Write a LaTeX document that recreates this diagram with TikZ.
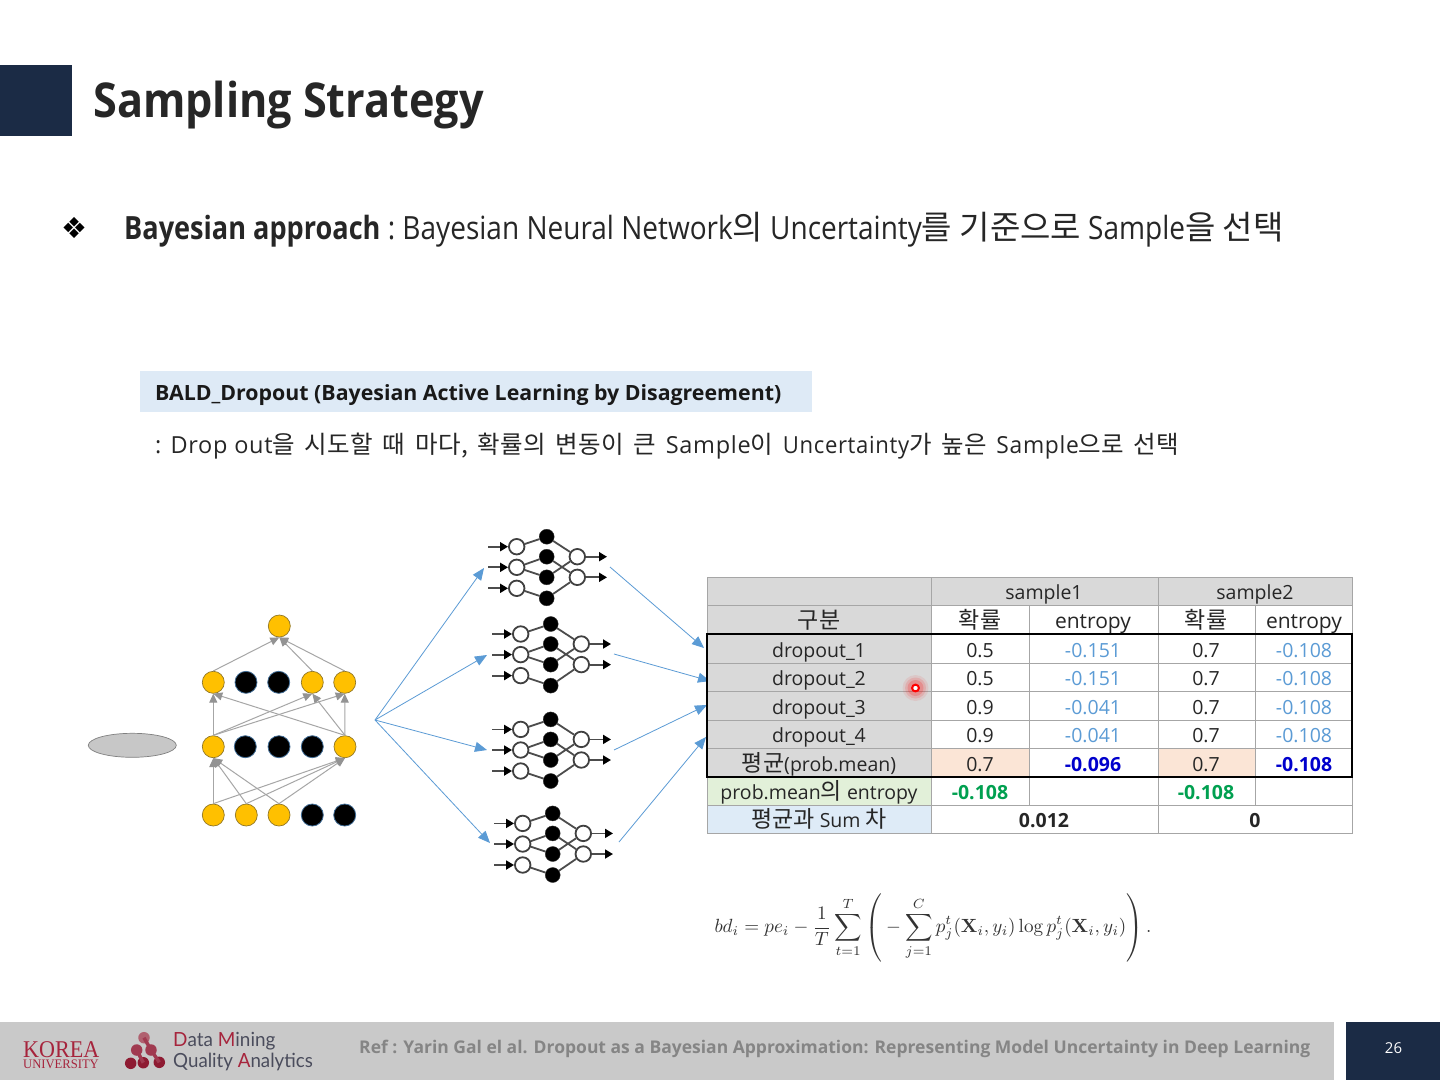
\documentclass[tikz,border=0pt]{standalone}
\usepackage[no-math]{fontspec}
\usepackage{graphicx}
\usepackage{amsmath}
\usetikzlibrary{arrows.meta,shapes.geometric}
\setmainfont{Open Sans}
\newfontfamily\krf{Noto Sans CJK KR}
\newfontfamily\lsf[LetterSpace=3]{Open Sans}
\newfontfamily\lskr[LetterSpace=2,WordSpace=1.6]{Noto Sans CJK KR}
\newfontfamily\dejavu{DejaVu Sans}
\newfontfamily\latof{Lato}
\newfontfamily\serf{Liberation Serif}
\newcommand{\kr}[1]{{\krf\fontsize{23}{23}\selectfont #1}}
\newcommand{\lk}[1]{{\lskr\fontsize{24.5}{24.5}\selectfont #1}}
\newcommand{\fs}[1]{\fontsize{#1}{#1}\selectfont}
\newcommand{\la}[1]{\scalebox{0.875}[1]{#1}}
\newcommand{\kb}[1]{{\krf\fontsize{33}{33}\selectfont #1}}
\definecolor{navy}{HTML}{1B2B45}
\definecolor{titletxt}{HTML}{262626}
\definecolor{boxblue}{HTML}{DEEAF6}
\definecolor{arrowblue}{HTML}{5B9BD5}
\definecolor{gold}{HTML}{FFC000}
\definecolor{edgegray}{HTML}{A6A6A6}
\definecolor{cellgray}{HTML}{D9D9D9}
\definecolor{peach}{HTML}{FBE5D6}
\definecolor{lgreen}{HTML}{E2F0D9}
\definecolor{lblue}{HTML}{DEEBF7}
\definecolor{dgreen}{HTML}{00A050}
\definecolor{dblue}{HTML}{0000CC}
\definecolor{footgray}{HTML}{C9C9C9}
\definecolor{kured}{HTML}{A6243C}
\definecolor{logotxt}{HTML}{4A4C5C}
\definecolor{logotop}{HTML}{B0606F}
\definecolor{logomid}{HTML}{A03A50}
\definecolor{logolow}{HTML}{8E1B32}
\tikzset{
 txt/.style={inner sep=0pt,anchor=base west},
 ctr/.style={inner sep=0pt,anchor=base},
 cellt/.style={ctr,font=\fs{19.5},text=black!85},
 goldn/.style={circle,draw=gold!60!black!70!gray,line width=0.7pt,fill=gold,minimum size=22pt,inner sep=0pt},
 blackn/.style={circle,draw=arrowblue!70!black,line width=0.8pt,fill=black,minimum size=22pt,inner sep=0pt},
 nnedge/.style={draw=edgegray,line width=1pt,-{Triangle[length=9pt,width=8pt,fill=gray!85,color=gray!85]}},
 bluearr/.style={draw=arrowblue,line width=0.8pt,-{Triangle[length=12pt,width=10pt,fill=arrowblue,color=arrowblue]}},
 whiten/.style={circle,draw=black!75,line width=1.8pt,fill=white,minimum size=15.5pt,inner sep=0pt},
 darkn/.style={circle,fill=black,draw=black!80,minimum size=15pt,inner sep=0pt},
 iconedge/.style={draw=black!70,line width=1.8pt},
 iconarr/.style={draw=black!70,line width=1.8pt,-{Triangle[length=8pt,width=9pt,fill=black,color=black]}},
 gridl/.style={draw=black!35,line width=0.8pt},
 dot/.style={circle,inner sep=0pt,minimum size=11.5pt},
}
% one small dropout network, offset by (#2,#3), node names prefixed #1
\newcommand{\dropnet}[3]{%
 \begin{scope}[shift={(#2,#3)}]
 \node[whiten] (#1i1) at (516.7,546.7) {};
 \node[whiten] (#1i2) at (516.7,567.3) {};
 \node[whiten] (#1i3) at (516.7,588.3) {};
 \node[darkn] (#1h1) at (546.7,536.7) {};
 \node[darkn] (#1h2) at (546.7,556.7) {};
 \node[darkn] (#1h3) at (546.7,577.3) {};
 \node[darkn] (#1h4) at (546.7,598.3) {};
 \node[whiten] (#1o1) at (577.3,556.7) {};
 \node[whiten] (#1o2) at (577.3,577.3) {};
 \coordinate (#1a1) at (488,546.7);
 \coordinate (#1a2) at (488,567.3);
 \coordinate (#1a3) at (488,588.3);
 \coordinate (#1b1) at (607,556.7);
 \coordinate (#1b2) at (607,577.3);
 \draw[iconedge] (#1i1)--(#1h1) (#1i2)--(#1h2) (#1i2)--(#1h3) (#1i3)--(#1h4)
   (#1h1)--(#1o1) (#1h2)--(#1o2) (#1h3)--(#1o1) (#1h4)--(#1o2);
 \draw[iconarr] (#1a1)--(#1i1); \draw[iconarr] (#1a2)--(#1i2); \draw[iconarr] (#1a3)--(#1i3);
 \draw[iconarr] (#1o1)--(#1b1); \draw[iconarr] (#1o2)--(#1b2);
 \end{scope}}
\begin{document}
\begin{tikzpicture}[x=1pt,y=-1pt]
\useasboundingbox (0,0) rectangle (1440,1080);
\fill[white] (0,0) rectangle (1440,1080);
% header
\fill[navy] (0,65) rectangle (72,136);
\node[txt,text=titletxt,font=\fs{48}\bfseries] (title) at (93,117) {\scalebox{0.9}[1]{Sampling Strategy}};
\node[inner sep=0pt,font=\dejavu\fs{29},text=black] (bullet) at (74.5,227.5) {❖};
\node[txt,font=\fs{32},text=titletxt] (line1) at (124,239) {\scalebox{0.847}[1]{\bfseries Bayesian approach}\la{\ :\ Bayesian Neural Network}\kb{의}\hspace{7pt}\la{Uncertainty}\kb{를 기준으로}\hspace{7pt}\la{Sample}\kb{을 선택}};
% BALD box
\fill[boxblue] (140,371) rectangle (812,412);
\node[txt,font=\fs{21}\bfseries,text=black!90] (bald) at (155,400) {\scalebox{1.016}[1]{BALD\_Dropout (Bayesian Active Learning by Disagreement)}};
\node[txt,font=\fs{23.5}\lsf,text=titletxt] (line2) at (155,453) {: Drop out\lk{을 시도할 때 마다, 확률의 변동이 큰 }Sample\lk{이 }\scalebox{0.94}[1]{Uncertainty}\lk{가 높은 }\scalebox{0.97}[1]{Sample}\lk{으로 선택}};
% left network
\node[ellipse,draw=gray,fill=black!22,line width=0.7pt,minimum width=88pt,minimum height=24pt,inner sep=0pt] (input) at (132.3,745.3) {};
\node[goldn] (top) at (279.3,626) {};
\node[goldn] (ra) at (213.3,682.3) {};
\node[blackn] (rb) at (246,682.3) {};
\node[blackn] (rc) at (278.7,682.3) {};
\node[goldn] (rd) at (312.3,682.3) {};
\node[goldn] (re) at (344.7,682.3) {};
\node[goldn] (sa) at (213.3,746.7) {};
\node[blackn] (sb) at (245.3,746.7) {};
\node[blackn] (sc) at (279,746.7) {};
\node[blackn] (sd) at (312.3,746.7) {};
\node[goldn] (se) at (345,746.7) {};
\node[goldn] (ta) at (213.3,815) {};
\node[goldn] (tb) at (246.3,815) {};
\node[goldn] (tc) at (279,815) {};
\node[blackn] (td) at (312.3,815) {};
\node[blackn] (te) at (344.7,815) {};
\foreach \a/\b in {ra/top,rd/top,re/top,sa/ra,sa/rd,sa/re,se/ra,se/rd,se/re,ta/sa,tb/sa,tc/sa,ta/se,tb/se,tc/se}
  \draw[nnedge] (\a.north)--(\b.south);
% small networks
\dropnet{n1}{0}{0}
\dropnet{n2}{4}{87.3}
\dropnet{n3}{4}{182.7}
\dropnet{n4}{6}{276.7}
% blue arrows
\coordinate (fan) at (375,720);
\coordinate (t1) at (484,568); \coordinate (t2) at (487,655);
\coordinate (t3) at (487,750); \coordinate (t4) at (490,843);
\foreach \t in {t1,t2,t3,t4} \draw[bluearr] (fan)--(\t);
\coordinate (f1) at (610,567); \coordinate (g1) at (704,648);
\coordinate (f2) at (614,654); \coordinate (g2) at (710,681);
\coordinate (f3) at (614,750); \coordinate (g3) at (707,705);
\coordinate (f4) at (619,842); \coordinate (g4) at (706,737);
\foreach \i in {1,2,3,4} \draw[bluearr] (f\i)--(g\i);
% table fills
\fill[cellgray] (707,577) rectangle (1352,605);
\fill[cellgray] (707,605) rectangle (931,777);
\fill[peach] (931,748) rectangle (1029,777);
\fill[peach] (1158,748) rectangle (1255,777);
\fill[lgreen] (707,777) rectangle (931,805);
\fill[lblue] (707,805) rectangle (931,833);
% table grid
\foreach \y in {605,634,663,691,720,748,777,805}
  \draw[gridl] (707,\y)--(1352,\y);
\draw[gridl] (707,577) rectangle (1352,833);
\draw[gridl] (931,577)--(931,833);
\draw[gridl] (1158,577)--(1158,833);
\draw[gridl] (1029,605)--(1029,805);
\draw[gridl] (1255,605)--(1255,805);
\draw[black,line width=2pt] (707,634) rectangle (1352,777);
% table text
\node[cellt] (h1) at (1044,599) {sample1};
\node[cellt] (h2) at (1255,599) {sample2};
\node[cellt] (h0) at (819,628) {\kr{구분}};
\node[cellt] (h3) at (980,628) {\kr{확률}};
\node[cellt,font=\fs{21}] (h4) at (1093,628) {entropy};
\node[cellt] (h5) at (1206,628) {\kr{확률}};
\node[cellt,font=\fs{21}] (h6) at (1304,628) {entropy};
\foreach \n/\y/\lab/\p/\e in {1/657/dropout\_1/0.5/-0.151,2/685/dropout\_2/0.5/-0.151,3/714/dropout\_3/0.9/-0.041,4/742/dropout\_4/0.9/-0.041}{
  \node[cellt] (d\n) at (819,\y) {\lab};
  \node[cellt] (dp\n) at (980,\y) {\p};
  \node[cellt,text=arrowblue] (de\n) at (1093,\y) {\e};
  \node[cellt] (dq\n) at (1206,\y) {0.7};
  \node[cellt,text=arrowblue] (df\n) at (1304,\y) {-0.108};
}
\node[cellt] (m0) at (819,771) {\kr{평균}(prob.mean)};
\node[cellt] (m1) at (980,771) {0.7};
\node[cellt,text=dblue,font=\fs{19.5}\bfseries] (m2) at (1093,771) {-0.096};
\node[cellt] (m3) at (1206,771) {0.7};
\node[cellt,text=dblue,font=\fs{19.5}\bfseries] (m4) at (1304,771) {-0.108};
\node[cellt] (p0) at (819,799) {prob.mean\kr{의} entropy};
\node[cellt,text=dgreen,font=\fs{19.5}\bfseries] (p1) at (980,799) {-0.108};
\node[cellt,text=dgreen,font=\fs{19.5}\bfseries] (p2) at (1206,799) {-0.108};
\node[cellt] (s0) at (819,827) {\kr{평균과} Sum \kr{차}};
\node[cellt,font=\fs{19.5}\bfseries] (s1) at (1044,827) {0.012};
\node[cellt,font=\fs{19.5}\bfseries] (s2) at (1255,827) {0};
% pointer
\fill[red,opacity=0.08] (915.5,688) circle (13);
\fill[red,opacity=0.12] (915.5,688) circle (10.5);
\fill[red,opacity=0.18] (915.5,688) circle (8);
\draw[red,line width=2pt,fill=white] (915.5,688) circle (3.4);
% formula
\node[inner sep=0pt,text=black!80] (formula) at (933,928) {\scalebox{1.91}{$\displaystyle bd_i = pe_i - \frac{1}{T}\sum_{t=1}^{T}\left(\rule{0pt}{19pt}-\sum_{j=1}^{C} p_j^{t}(\mathbf{X}_i,y_i)\log p_j^{t}(\mathbf{X}_i,y_i)\right).$}};
% footer
\fill[footgray] (0,1022) rectangle (1334,1080);
\fill[navy] (1346,1022) rectangle (1440,1080);
\node[inner sep=0pt,text=white,font=\fs{15}] (page) at (1393.5,1048.5) {26};
\node[txt,font=\fs{17.5}\bfseries,text=black!48] (ref) at (359,1053) {Ref : Yarin Gal el al. Dropout as a Bayesian Approximation: Representing Model Uncertainty in Deep Learning};
\node[txt,font=\serf\fs{24},text=kured] (korea) at (23,1057) {\scalebox{0.92}[1]{KOREA}};
\node[txt,font=\serf\fs{13},text=kured] (univ) at (23,1068) {\scalebox{0.97}[1]{UNIVERSITY}};
% logo
\node[dot,fill=logotop] (loga) at (144,1037.7) {};
\node[dot,fill=logomid] (logf) at (151,1050) {};
\node[dot,fill=logomid] (logb) at (136.7,1050) {};
\node[dot,fill=logolow] (logc) at (130.7,1063.3) {};
\node[dot,fill=logolow] (logd) at (143.3,1062.7) {};
\node[dot,fill=logolow] (loge) at (159.3,1062.3) {};
\draw[draw=logomid,line width=3.5pt] (loga.center)--(logf.center);
\draw[draw=logomid,line width=3.5pt] (logf.center)--(loge.center);
\draw[draw=logomid,line width=3.5pt] (logb.center)--(logd.center);
\node[txt,font=\latof\fs{19.5},text=logotxt] (dm) at (173,1046) {\scalebox{0.97}[1]{{\color{kured}D}ata {\color{kured}M}ining}};
\node[txt,font=\latof\fs{19.5},text=logotxt] (qa) at (173,1067) {\scalebox{0.96}[1]{Quality {\color{kured}A}nalytics}};
\end{tikzpicture}
\end{document}
